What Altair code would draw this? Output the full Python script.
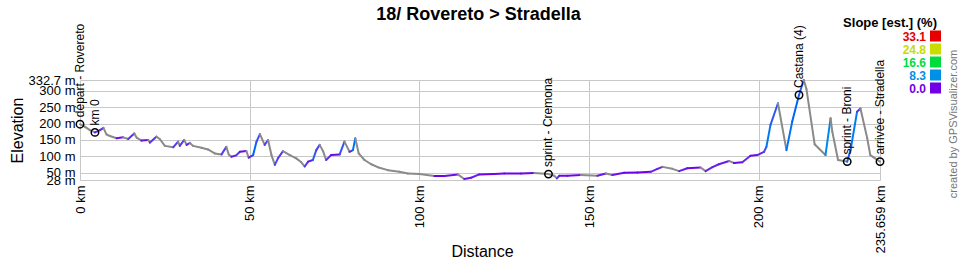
import altair as alt
import pandas as pd

title_text = "18/ Rovereto > Stradella"
credit_text = "created by GPSVisualizer.com"
legend_title = "Slope [est.] (%)"

# profile (distance km, elevation m)
km = [0.0, 1.5, 2.9, 4.4, 5.9, 6.9, 7.8, 8.8, 10.8, 12.7, 14.2, 16.0, 16.7, 18.1,
      20.1, 20.6, 22.5, 23.5, 25.0, 27.5, 28.9, 29.4, 30.7, 31.4, 32.4, 33.3, 35.8,
      37.7, 39.7, 41.7, 43.1, 43.8, 44.6, 46.0, 47.1, 49.0, 49.7, 51.0, 52.0, 53.0,
      54.4, 55.4, 56.4, 57.4, 58.3, 59.8, 61.8, 63.7, 65.2, 66.2, 67.2, 68.6, 69.6,
      70.6, 71.6, 72.5, 74.0, 76.5, 77.9, 79.4, 80.4, 81.1, 82.1, 83.8, 85.8, 87.7,
      90.7, 94.1, 96.6, 100.0, 104.4, 107.4, 111.3, 113.2, 115.2, 117.6, 122.0, 125.0,
      129.9, 133.8, 138.0, 139.7, 140.5, 141.2, 143.6, 147.5, 152.4, 154.9, 156.8,
      160.3, 164.2, 168.1, 170.1, 171.6, 174.5, 176.5, 178.9, 182.8, 184.3, 186.3,
      188.2, 191.2, 192.6, 195.1, 197.5, 199.5, 201.5, 202.2, 203.4, 205.6, 208.1,
      209.8, 211.8, 213.2, 214.0, 216.4, 219.6, 221.1, 221.6, 223.3, 226.0, 227.0,
      228.9, 229.9, 231.9, 232.8, 235.659]
elev = [198, 190, 180, 173, 180, 187, 167, 162, 155, 158, 153, 170, 157, 148,
        150, 142, 160, 153, 132, 128, 145, 132, 150, 135, 141, 132, 126,
        121, 109, 106, 129, 106, 99, 103, 114, 116, 96, 104, 145, 168,
        135, 150, 104, 74, 94, 116, 104, 94, 82, 69, 84, 89, 119,
        135, 116, 89, 104, 106, 145, 114, 119, 155, 109, 89, 76, 67,
        58, 53, 48, 46, 40, 40, 45, 31, 35, 45, 46, 48,
        48, 49, 46, 41, 33, 41, 41, 43, 41, 48, 43,
        50, 51, 53, 62, 68, 62, 55, 64, 66, 55, 67,
        76, 86, 80, 82, 102, 104, 114, 129, 196, 262, 119,
        206, 287, 332.7, 305, 137, 104, 216, 176, 89, 84, 120,
        236, 246, 155, 104, 84]

wp_km = [0.0, 4.4, 138.0, 211.8, 226.0, 235.659]
wp_elev = [198, 173, 46, 287, 84, 84]
wp_name = ["départ - Rovereto", "km 0", "sprint - Cremona", "Castana (4)",
           "sprint - Broni", "arrivée - Stradella"]

x_ticks = [0, 50, 100, 150, 200, 235.659]
y_ticks = [28, 50, 100, 150, 200, 250, 300, 332.7]

legend_vals = [33.1, 24.8, 16.6, 8.3, 0.0]
legend_cols = ["#e60000", "#c8dc00", "#00dc3c", "#0090e6", "#7000e6"]
descent_color = "#8a8a8a"

FONT = "Liberation Sans"

seg = pd.DataFrame({"km": km[:-1], "km2": km[1:], "elev": elev[:-1], "elev2": elev[1:]})
seg["slope"] = (seg["elev2"] - seg["elev"]) / ((seg["km2"] - seg["km"]) * 1000.0) * 100.0

wp = pd.DataFrame({"km": wp_km, "elev": wp_elev, "name": wp_name})
leg = pd.DataFrame({"val": legend_vals, "row": list(range(len(legend_vals)))})

color_scale = alt.Scale(domain=sorted(legend_vals), range=legend_cols[::-1], clamp=True)

x_scale = alt.Scale(domain=[0, 235.659], nice=False, zero=False)
y_scale = alt.Scale(domain=[28, 332.7], nice=False, zero=False)

x_axis = alt.Axis(values=x_ticks, labelExpr="datum.value + ' km'", labelAngle=270,
                  labelAlign="right", labelBaseline="middle", labelPadding=5,
                  labelFlush=False, labelOverlap=False, title="Distance",
                  tickCount=20,
                  titleY=76, titleBaseline="alphabetic", titleX=402)
y_axis = alt.Axis(values=y_ticks, labelExpr="datum.value + ' m'", labelPadding=5,
                  labelFlush=False, labelOverlap=False, title="Elevation",
                  tickCount=20,
                  titleX=-58, titleY=50, titleBaseline="alphabetic", titleAngle=270,
                  titleAlign="center")

profile = alt.Chart(seg).mark_rule(strokeWidth=2, strokeCap="round").encode(
    x=alt.X("km:Q", scale=x_scale, axis=x_axis),
    x2="km2:Q",
    y=alt.Y("elev:Q", scale=y_scale, axis=y_axis),
    y2="elev2:Q",
    color=alt.condition("datum.slope < 0", alt.value(descent_color),
                        alt.Color("slope:Q", scale=color_scale, legend=None)),
)

points = alt.Chart(wp).mark_point(shape="circle", filled=False, color="black",
                                  strokeWidth=1.5, size=55, opacity=1).encode(
    x=alt.X("km:Q", scale=x_scale, axis=x_axis), y=alt.Y("elev:Q", scale=y_scale, axis=y_axis))

labels = alt.Chart(wp).mark_text(angle=270, align="left", baseline="middle", dx=7,
                                 font=FONT, fontSize=12, color="black").encode(
    x=alt.X("km:Q", scale=x_scale, axis=x_axis), y=alt.Y("elev:Q", scale=y_scale, axis=y_axis),
    text="name:N")

title = alt.Chart(pd.DataFrame({"t": [title_text]})).mark_text(
    font=FONT, fontSize=18, fontWeight="bold", align="center", baseline="alphabetic",
    color="black").encode(x=alt.value(398.5), y=alt.value(-60), text="t:N")

leg_title = alt.Chart(pd.DataFrame({"t": [legend_title]})).mark_text(
    font=FONT, fontSize=13, fontWeight="bold", align="right", baseline="alphabetic",
    color="black").encode(x=alt.value(857), y=alt.value(-53), text="t:N")

leg_text = alt.Chart(leg).transform_calculate(ypx="-39 + 13 * datum.row").mark_text(
    font=FONT, fontSize=12, fontWeight="bold", align="right", baseline="alphabetic").encode(
    x=alt.value(846), y=alt.Y("ypx:Q", scale=None),
    text=alt.Text("val:Q", format=".1f"),
    color=alt.Color("val:Q", scale=color_scale, legend=None))

leg_sq = alt.Chart(leg).transform_calculate(ypx="-44 + 13 * datum.row").mark_square(
    size=121, opacity=1, filled=True).encode(
    x=alt.value(855.5), y=alt.Y("ypx:Q", scale=None),
    color=alt.Color("val:Q", scale=color_scale, legend=None))

credit = alt.Chart(pd.DataFrame({"t": [credit_text]})).mark_text(
    font=FONT, fontSize=11, angle=270, align="center", baseline="middle",
    color="#777777").encode(x=alt.value(874), y=alt.value(44), text="t:N")

chart = alt.layer(profile, points, labels, title, leg_title, leg_text, leg_sq, credit).properties(
    width=800, height=100,
    padding={"left": 80, "top": 80, "right": 80, "bottom": 80},
    autosize=alt.AutoSizeParams(type="none"),
).configure_view(strokeWidth=0).configure_axis(
    grid=True, gridColor="#c8c8c8", gridWidth=1, domain=False, ticks=False,
    labelFont=FONT, labelFontSize=13, labelColor="black",
    titleFont=FONT, titleFontSize=16, titleFontWeight="normal", titleColor="black",
)

chart.save("out.html", embed_options={"renderer": "svg", "actions": False})
